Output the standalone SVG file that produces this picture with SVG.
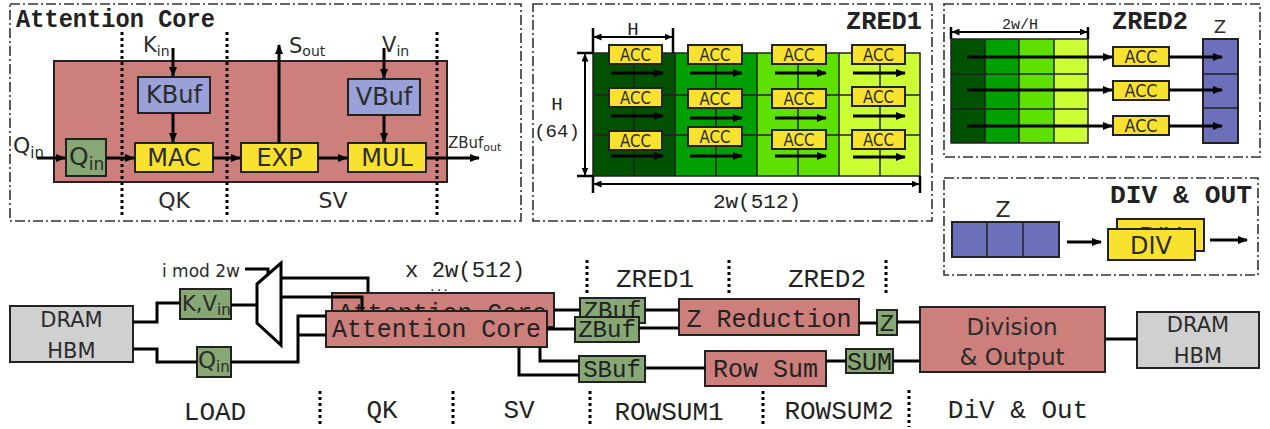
<svg xmlns="http://www.w3.org/2000/svg" width="1270" height="429" viewBox="0 0 1270 429">
<defs>
<marker id="ah" viewBox="0 0 10 8" refX="9" refY="4" markerWidth="10" markerHeight="8" markerUnits="userSpaceOnUse" orient="auto-start-reverse"><path d="M0,0 L10,4 L0,8 z" fill="#000"/></marker>
<marker id="ahs" viewBox="0 0 8 7" refX="7.5" refY="3.5" markerWidth="8" markerHeight="7" markerUnits="userSpaceOnUse" orient="auto-start-reverse"><path d="M0,0 L8,3.5 L0,7 z" fill="#000"/></marker>
</defs>
<style>
.panel{fill:none;stroke:#333;stroke-width:1.6;stroke-dasharray:10 3 2 3}
.core{fill:#CD7F7C;stroke:#222;stroke-width:2}
.buf{fill:#9AA0D8;stroke:#222;stroke-width:2}
.yel{fill:#F9E12F;stroke:#222;stroke-width:2}
.grn{fill:#87A874;stroke:#222;stroke-width:2}
.gray{fill:#D0D0D0;stroke:#222;stroke-width:2}
.zc{fill:#6C6FB9;stroke:#222;stroke-width:2}
.ln{fill:none;stroke:#000;stroke-width:3}
.arr{fill:none;stroke:#000;stroke-width:3;marker-end:url(#ah)}
.dim{fill:none;stroke:#000;stroke-width:2;marker-start:url(#ahs);marker-end:url(#ahs)}
.tick{stroke:#000;stroke-width:2.5}
.dot{stroke:#000;stroke-width:3;stroke-dasharray:3 3}
.grid{stroke:#222;stroke-width:1.5;fill:none}
.sans{font-family:"DejaVu Sans","Open Sans",sans-serif;fill:#2b2b2b}
.mono{font-family:"Liberation Mono","DejaVu Sans Mono",monospace;fill:#222}
.bold{font-weight:bold}
.mid{text-anchor:middle}
.end{text-anchor:end}
.c1{fill:#005200}.c2{fill:#00A000}.c3{fill:#5EE000}.c4{fill:#CCFF33}
</style>

<!-- ===== Attention Core panel ===== -->
<g id="panel-attention-core">
  <rect class="panel" x="10" y="4" width="511" height="217"/>
  <text class="mono bold" x="16" y="27" font-size="25" textLength="199" lengthAdjust="spacingAndGlyphs" fill="#111">Attention Core</text>
  <rect class="core" x="54" y="61" width="393" height="121"/>
</g>
<g id="ac-dividers">
  <line class="dot" x1="122" y1="32" x2="122" y2="217"/>
  <line class="dot" x1="227" y1="32" x2="227" y2="217"/>
  <line class="dot" x1="437" y1="32" x2="437" y2="217"/>
</g>
<g id="ac-qin">
  <rect class="grn" x="66" y="139" width="40" height="37"/>
  <text class="sans" x="69" y="165" font-size="25">Q<tspan font-size="17" dy="5">in</tspan></text>
</g>
<g id="ac-kbuf">
  <rect class="buf" x="138" y="77" width="72" height="36"/>
  <text class="sans mid" x="174" y="103" font-size="24">KBuf</text>
</g>
<g id="ac-vbuf">
  <rect class="buf" x="348" y="79" width="72" height="36"/>
  <text class="sans mid" x="384" y="105" font-size="24">VBuf</text>
</g>
<g id="ac-mac">
  <rect class="yel" x="135" y="143" width="78" height="29"/>
  <text class="sans mid" x="174" y="166" font-size="24">MAC</text>
</g>
<g id="ac-exp">
  <rect class="yel" x="241" y="143" width="77" height="29"/>
  <text class="sans mid" x="279.5" y="166" font-size="24">EXP</text>
</g>
<g id="ac-mul">
  <rect class="yel" x="348" y="143" width="78" height="29"/>
  <text class="sans mid" x="387" y="166" font-size="24">MUL</text>
</g>
<g id="ac-labels">
  <text class="sans" x="13" y="153" font-size="22">Q<tspan font-size="15" dy="5">in</tspan></text>
  <text class="sans" x="143" y="52" font-size="21">K<tspan font-size="14" dy="4">in</tspan></text>
  <text class="sans" x="289" y="53" font-size="21">S<tspan font-size="14" dy="3">out</tspan></text>
  <text class="sans" x="382" y="52" font-size="21">V<tspan font-size="14" dy="4">in</tspan></text>
  <text class="sans" x="448" y="148" font-size="15">ZBuf<tspan font-size="11" dy="3">out</tspan></text>
  <text class="sans mid" x="174" y="208" font-size="22">QK</text>
  <text class="sans mid" x="333" y="208" font-size="22">SV</text>
</g>

<!-- ===== ZRED1 panel ===== -->
<g id="panel-zred1">
  <rect class="panel" x="533" y="4" width="399" height="217"/>
  <text class="mono bold end" x="922" y="29" font-size="25" fill="#333" textLength="76" lengthAdjust="spacingAndGlyphs">ZRED1</text>
  <rect class="c1" x="593" y="53" width="82" height="123"/>
  <rect class="c2" x="675" y="53" width="82" height="123"/>
  <rect class="c3" x="757" y="53" width="82" height="123"/>
  <rect class="c4" x="839" y="53" width="81" height="123"/>
  <path class="grid" d="M593,95H920M593,135H920M634,53V176M716,53V176M798,53V176M880,53V176M675,53V176M757,53V176M839,53V176"/>
  <rect class="grid" x="593" y="53" width="327" height="123"/>
</g>
<g id="zred1-acc">
  <rect class="yel" x="609" y="45" width="53" height="19"/><text class="sans mid" x="635.5" y="61" font-size="17" textLength="31" lengthAdjust="spacingAndGlyphs">ACC</text>
  <rect class="yel" x="609" y="88" width="53" height="19"/><text class="sans mid" x="635.5" y="104" font-size="17" textLength="31" lengthAdjust="spacingAndGlyphs">ACC</text>
  <rect class="yel" x="609" y="131" width="53" height="19"/><text class="sans mid" x="635.5" y="147" font-size="17" textLength="31" lengthAdjust="spacingAndGlyphs">ACC</text>
  <rect class="yel" x="688" y="45" width="54" height="19"/><text class="sans mid" x="715" y="61" font-size="17" textLength="31" lengthAdjust="spacingAndGlyphs">ACC</text>
  <rect class="yel" x="688" y="89" width="54" height="19"/><text class="sans mid" x="715" y="105" font-size="17" textLength="31" lengthAdjust="spacingAndGlyphs">ACC</text>
  <rect class="yel" x="688" y="127" width="54" height="19"/><text class="sans mid" x="715" y="143" font-size="17" textLength="31" lengthAdjust="spacingAndGlyphs">ACC</text>
  <rect class="yel" x="772" y="45" width="54" height="19"/><text class="sans mid" x="799" y="61" font-size="17" textLength="31" lengthAdjust="spacingAndGlyphs">ACC</text>
  <rect class="yel" x="772" y="89" width="54" height="19"/><text class="sans mid" x="799" y="105" font-size="17" textLength="31" lengthAdjust="spacingAndGlyphs">ACC</text>
  <rect class="yel" x="772" y="130" width="54" height="19"/><text class="sans mid" x="799" y="146" font-size="17" textLength="31" lengthAdjust="spacingAndGlyphs">ACC</text>
  <rect class="yel" x="852" y="45" width="53" height="19"/><text class="sans mid" x="878.5" y="61" font-size="17" textLength="31" lengthAdjust="spacingAndGlyphs">ACC</text>
  <rect class="yel" x="852" y="87" width="53" height="19"/><text class="sans mid" x="878.5" y="103" font-size="17" textLength="31" lengthAdjust="spacingAndGlyphs">ACC</text>
  <rect class="yel" x="852" y="130" width="53" height="19"/><text class="sans mid" x="878.5" y="146" font-size="17" textLength="31" lengthAdjust="spacingAndGlyphs">ACC</text>
</g>
<g id="zred1-dims">
  <line class="tick" x1="593" y1="28" x2="593" y2="53"/>
  <line class="tick" x1="673" y1="28" x2="673" y2="53"/>
  <line class="dim" x1="594" y1="37" x2="672" y2="37"/>
  <text class="mono mid" x="633" y="35" font-size="19" fill="#333">H</text>
  <line class="tick" x1="577" y1="53" x2="593" y2="53"/>
  <line class="tick" x1="577" y1="176" x2="593" y2="176"/>
  <line class="dim" x1="585" y1="54" x2="585" y2="175"/>
  <text class="mono mid" x="557" y="110" font-size="19" fill="#333">H</text>
  <text class="mono mid" x="557" y="137" font-size="19" fill="#333">(64)</text>
  <line class="tick" x1="593" y1="176" x2="593" y2="193"/>
  <line class="tick" x1="920" y1="176" x2="920" y2="193"/>
  <line class="dim" x1="594" y1="184" x2="919" y2="184"/>
  <text class="mono mid" x="757" y="208" font-size="21" fill="#333">2w(512)</text>
</g>

<!-- ===== ZRED2 panel ===== -->
<g id="panel-zred2">
  <rect class="panel" x="944" y="4" width="316" height="153"/>
  <text class="mono bold end" x="1188" y="29" font-size="25" fill="#333" textLength="76" lengthAdjust="spacingAndGlyphs">ZRED2</text>
  <text class="sans mid" x="1220" y="33" font-size="18">Z</text>
  <rect class="c1" x="951" y="39" width="34" height="104"/>
  <rect class="c2" x="985" y="39" width="34" height="104"/>
  <rect class="c3" x="1019" y="39" width="35" height="104"/>
  <rect class="c4" x="1054" y="39" width="34" height="104"/>
  <path class="grid" d="M951,74H1088M951,109H1088M985,39V143M1019,39V143M1054,39V143" stroke-width="2"/>
  <rect class="grid" x="951" y="39" width="137" height="104" stroke-width="2"/>
  <line class="tick" x1="951" y1="27" x2="951" y2="39"/>
  <line class="tick" x1="1088" y1="27" x2="1088" y2="39"/>
  <line class="dim" x1="952" y1="32" x2="1087" y2="32"/>
  <text class="mono mid" x="1020" y="29" font-size="15" fill="#333">2w/H</text>
</g>
<g id="zred2-acc">
  <rect class="yel" x="1113" y="47" width="56" height="19"/><text class="sans mid" x="1141" y="63" font-size="18" textLength="33" lengthAdjust="spacingAndGlyphs">ACC</text>
  <rect class="yel" x="1113" y="81" width="56" height="19"/><text class="sans mid" x="1141" y="97" font-size="18" textLength="33" lengthAdjust="spacingAndGlyphs">ACC</text>
  <rect class="yel" x="1113" y="116" width="56" height="19"/><text class="sans mid" x="1141" y="132" font-size="18" textLength="33" lengthAdjust="spacingAndGlyphs">ACC</text>
</g>
<g id="zred2-z">
  <rect class="zc" x="1203" y="39" width="35" height="104"/>
  <path class="grid" d="M1203,74H1238M1203,108H1238" stroke-width="2"/>
</g>

<!-- ===== DIV & OUT panel ===== -->
<g id="panel-div-out">
  <rect class="panel" x="944" y="178" width="314" height="97"/>
  <text class="mono bold end" x="1252" y="203" font-size="25" fill="#333" textLength="142" lengthAdjust="spacingAndGlyphs">DIV &amp; OUT</text>
  <text class="sans mid" x="1003" y="217" font-size="22">Z</text>
  <rect class="zc" x="952" y="222" width="107" height="35"/>
  <path class="grid" d="M987,222V257M1023,222V257" stroke-width="2"/>
</g>
<g id="div-back">
  <rect class="yel" x="1117" y="219" width="87" height="32"/>
  <text class="sans mid" x="1160" y="245" font-size="24">DIV</text>
</g>
<g id="div-front">
  <rect class="yel" x="1108" y="229" width="87" height="31"/>
  <text class="sans mid" x="1151" y="254" font-size="24">DIV</text>
</g>

<!-- ===== Bottom pipeline ===== -->
<g id="dram-in">
  <rect class="gray" x="10" y="306" width="123" height="56"/>
  <text class="sans mid" x="71.5" y="327" font-size="21" fill="#111">DRAM</text>
  <text class="sans mid" x="71.5" y="358" font-size="21" fill="#111">HBM</text>
</g>
<g id="kv-in">
  <rect class="grn" x="180" y="289" width="51" height="30"/>
  <text class="sans" x="182" y="311" font-size="22" textLength="35" lengthAdjust="spacingAndGlyphs" fill="#111">K,V</text>
  <text class="sans" x="217" y="315" font-size="15" fill="#111">in</text>
</g>
<g id="q-in">
  <rect class="grn" x="197" y="347" width="34" height="30"/>
  <text class="sans" x="198" y="368" font-size="23" fill="#111">Q<tspan font-size="15" dy="4">in</tspan></text>
</g>
<g id="mux">
  <polygon points="257,284 281,263 281,345 257,323" fill="#fff" stroke="#000" stroke-width="3"/>
  <text class="sans" x="162" y="277" font-size="17" textLength="78" lengthAdjust="spacingAndGlyphs" fill="#111">i mod 2w</text>
</g>
<g id="core-back">
  <rect class="core" x="332" y="293" width="222" height="34"/>
  <text class="mono" x="338" y="321" font-size="25" textLength="209" lengthAdjust="spacingAndGlyphs" fill="#111">Attention Core</text>
</g>
<g id="core-front">
  <rect class="core" x="326" y="311" width="221" height="36"/>
  <text class="mono" x="332" y="337" font-size="25" textLength="209" lengthAdjust="spacingAndGlyphs" fill="#111">Attention Core</text>
</g>
<g id="zbuf-back">
  <rect class="grn" x="580" y="298" width="65" height="25"/>
  <text class="mono mid" x="612.5" y="318" font-size="24" fill="#111">ZBuf</text>
</g>
<g id="zbuf-front">
  <rect class="grn" x="575" y="317" width="64" height="25"/>
  <text class="mono mid" x="607" y="337" font-size="24" fill="#111">ZBuf</text>
</g>
<g id="sbuf">
  <rect class="grn" x="579" y="356" width="66" height="26"/>
  <text class="mono mid" x="612" y="377" font-size="24" fill="#111">SBuf</text>
</g>
<g id="z-reduction">
  <rect class="core" x="679" y="299" width="180" height="36"/>
  <text class="mono mid" x="769" y="327" font-size="25" fill="#111">Z Reduction</text>
</g>
<g id="z-buf">
  <rect class="grn" x="877" y="310" width="20" height="25"/>
  <text class="mono mid" x="887" y="331" font-size="24" fill="#111">Z</text>
</g>
<g id="row-sum">
  <rect class="core" x="705" y="351" width="121" height="35"/>
  <text class="mono mid" x="765.5" y="377" font-size="25" fill="#111">Row Sum</text>
</g>
<g id="sum-buf">
  <rect class="grn" x="846" y="349" width="47" height="24"/>
  <text class="mono mid" x="869.5" y="370" font-size="25" fill="#111">SUM</text>
</g>
<g id="division-output">
  <rect class="core" x="920" y="307" width="185" height="65"/>
  <text class="sans mid" x="1012" y="335" font-size="23" fill="#111">Division</text>
  <text class="sans mid" x="1012" y="365" font-size="23" fill="#111">&amp; Output</text>
</g>
<g id="dram-out">
  <rect class="gray" x="1137" y="312" width="122" height="56"/>
  <text class="sans mid" x="1198" y="332" font-size="21" fill="#111">DRAM</text>
  <text class="sans mid" x="1198" y="363" font-size="21" fill="#111">HBM</text>
</g>
<g id="stage-labels">
  <text class="mono" x="405" y="277" font-size="22" textLength="120" lengthAdjust="spacingAndGlyphs">x 2w(512)</text>
  <text class="mono mid" x="439" y="291" font-size="11" font-weight="bold">...</text>
  <text class="mono mid" x="655" y="287" font-size="26" fill="#333">ZRED1</text>
  <text class="mono mid" x="827" y="287" font-size="26" fill="#333">ZRED2</text>
  <text class="mono mid" x="215" y="420" font-size="26">LOAD</text>
  <text class="mono mid" x="382" y="418" font-size="26">QK</text>
  <text class="mono mid" x="519" y="418" font-size="26">SV</text>
  <text class="mono mid" x="669" y="420" font-size="26" fill="#333">ROWSUM1</text>
  <text class="mono mid" x="839" y="419" font-size="26" fill="#333">ROWSUM2</text>
  <text class="mono mid" x="1018" y="418" font-size="26">DiV &amp; Out</text>
</g>
<g id="stage-dividers">
  <line class="dot" x1="587" y1="260" x2="587" y2="295"/>
  <line class="dot" x1="729" y1="260" x2="729" y2="294"/>
  <line class="dot" x1="886" y1="260" x2="886" y2="294"/>
  <line class="dot" x1="320" y1="391" x2="320" y2="427"/>
  <line class="dot" x1="453" y1="391" x2="453" y2="427"/>
  <line class="dot" x1="590" y1="391" x2="590" y2="427"/>
  <line class="dot" x1="763" y1="391" x2="763" y2="427"/>
  <line class="dot" x1="909" y1="390" x2="909" y2="427"/>
</g>

<!-- ===== Connectors ===== -->
<g id="connectors">
  <line class="arr" x1="37" y1="158" x2="65" y2="158"/>
  <line class="arr" x1="106" y1="158" x2="134" y2="158"/>
  <line class="arr" x1="213" y1="158" x2="240" y2="158"/>
  <line class="arr" x1="318" y1="158" x2="347" y2="158"/>
  <line class="arr" x1="426" y1="158" x2="479" y2="158"/>
  <line class="arr" x1="173" y1="48" x2="173" y2="76"/>
  <line class="arr" x1="173" y1="113" x2="173" y2="142"/>
  <line class="arr" x1="384" y1="48" x2="384" y2="78"/>
  <line class="arr" x1="384" y1="115" x2="384" y2="142"/>
  <line class="arr" x1="279" y1="143" x2="279" y2="45"/>
  <line class="arr" x1="611" y1="73" x2="663" y2="73"/>
  <line class="arr" x1="611" y1="116" x2="663" y2="116"/>
  <line class="arr" x1="611" y1="156" x2="663" y2="156"/>
  <line class="arr" x1="690" y1="73" x2="742" y2="73"/>
  <line class="arr" x1="690" y1="118" x2="742" y2="118"/>
  <line class="arr" x1="690" y1="156" x2="742" y2="156"/>
  <line class="arr" x1="775" y1="73" x2="826" y2="73"/>
  <line class="arr" x1="775" y1="118" x2="826" y2="118"/>
  <line class="arr" x1="775" y1="156" x2="826" y2="156"/>
  <line class="arr" x1="853" y1="73" x2="905" y2="73"/>
  <line class="arr" x1="853" y1="116" x2="905" y2="116"/>
  <line class="arr" x1="853" y1="157" x2="905" y2="157"/>
  <line class="arr" x1="967" y1="57" x2="1112" y2="57"/>
  <line class="arr" x1="967" y1="90" x2="1112" y2="90"/>
  <line class="arr" x1="967" y1="126" x2="1112" y2="126"/>
  <line class="arr" x1="1169" y1="57" x2="1222" y2="57"/>
  <line class="arr" x1="1169" y1="90" x2="1222" y2="90"/>
  <line class="arr" x1="1169" y1="126" x2="1222" y2="126"/>
  <line class="arr" x1="1067" y1="242" x2="1101" y2="242"/>
  <line class="arr" x1="1210" y1="240" x2="1247" y2="240"/>
  <polyline class="ln" points="133,322 157,322 157,303 180,303"/>
  <polyline class="ln" points="133,349 157,349 157,362 197,362"/>
  <polyline class="ln" points="245,269 268,269 268,274"/>
  <line class="ln" x1="231" y1="305" x2="257" y2="305"/>
  <polyline class="ln" points="231,362 298,362 298,316 326,316"/>
  <line class="ln" x1="298" y1="335" x2="326" y2="335"/>
  <polyline class="ln" points="281,278 368,278 368,293"/>
  <polyline class="ln" points="281,297 362,297 362,311"/>
  <line class="ln" x1="554" y1="310" x2="580" y2="310"/>
  <line class="ln" x1="547" y1="329" x2="575" y2="329"/>
  <polyline class="ln" points="540,347 540,361 579,361"/>
  <polyline class="ln" points="519,347 519,375 579,375"/>
  <line class="ln" x1="645" y1="310" x2="679" y2="310"/>
  <line class="ln" x1="639" y1="328" x2="679" y2="328"/>
  <line class="ln" x1="645" y1="368" x2="705" y2="368"/>
  <line class="ln" x1="859" y1="323" x2="877" y2="323"/>
  <line class="ln" x1="897" y1="322" x2="920" y2="322"/>
  <line class="ln" x1="826" y1="361" x2="846" y2="361"/>
  <line class="ln" x1="893" y1="361" x2="920" y2="361"/>
  <line class="ln" x1="1105" y1="339" x2="1137" y2="339"/>
</g>
</svg>
